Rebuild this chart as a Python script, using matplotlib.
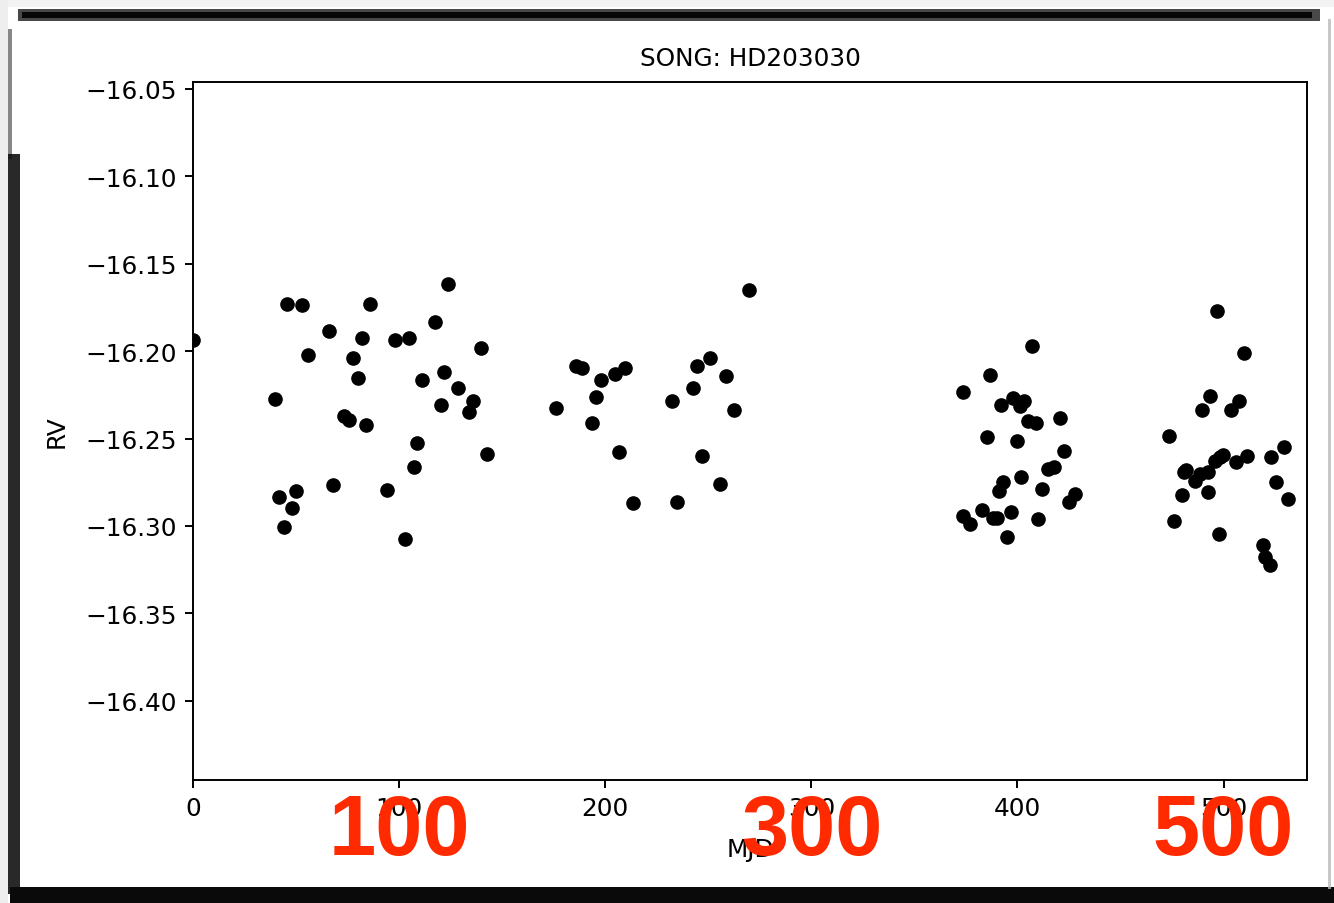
import numpy as np
import matplotlib
matplotlib.use("Agg")
import matplotlib.pyplot as plt
from matplotlib.patches import Rectangle

# --- data (days since first epoch, RV in km/s) ---
mjd = [
    0.0, 39.7, 45.8, 52.9, 66.1, 55.9, 41.8, 49.9, 47.9, 43.9,
    67.7, 85.8, 81.9, 77.7, 79.8, 73.3, 75.8, 83.8, 93.9, 98.0,
    104.9, 103.0, 108.6, 107.0, 110.9, 117.5, 123.9, 121.7, 120.1, 128.7,
    135.7, 133.7, 139.5, 142.4,
    269.7, 176.2, 185.9, 188.8, 197.8, 195.7, 193.8, 204.5, 209.8, 206.9,
    213.7, 232.5, 234.7, 242.7, 244.6, 250.8, 258.7, 262.7, 246.7, 255.5,
    407.0, 386.9, 373.8, 391.9, 397.6, 401.2, 403.1, 404.9, 408.8, 420.6,
    385.1, 399.8, 422.7, 414.9, 417.8, 401.6, 393.0, 391.0, 412.0, 428.0,
    425.0, 382.9, 396.8, 373.6, 377.0, 387.9, 390.1, 410.0, 394.9,
    496.7, 510.0, 493.4, 489.4, 507.7, 503.6, 473.7, 529.4, 511.6, 523.0,
    499.9, 498.3, 495.9, 505.9, 480.8, 482.0, 488.6, 492.6, 486.2, 525.2,
    479.8, 492.3, 531.2, 475.8, 497.7, 519.3, 520.3, 522.6,
]
rv = [
    -16.1936, -16.2273, -16.1728, -16.1736, -16.1886, -16.2023, -16.2832, -16.2800, -16.2895, -16.3006,
    -16.2764, -16.1728, -16.1926, -16.2037, -16.2155, -16.2369, -16.2394, -16.2424, -16.2792, -16.1937,
    -16.1926, -16.3074, -16.2523, -16.2661, -16.2163, -16.1835, -16.1617, -16.2121, -16.2308, -16.2211,
    -16.2283, -16.2350, -16.1983, -16.2586,
    -16.1648, -16.2325, -16.2083, -16.2094, -16.2163, -16.2262, -16.2412, -16.2130, -16.2096, -16.2575,
    -16.2870, -16.2283, -16.2861, -16.2211, -16.2086, -16.2037, -16.2140, -16.2335, -16.2600, -16.2758,
    -16.1969, -16.2134, -16.2235, -16.2310, -16.2269, -16.2312, -16.2285, -16.2398, -16.2412, -16.2384,
    -16.2489, -16.2515, -16.2573, -16.2674, -16.2664, -16.2720, -16.2748, -16.2798, -16.2788, -16.2819,
    -16.2864, -16.2908, -16.2920, -16.2941, -16.2990, -16.2956, -16.2956, -16.2960, -16.3065,
    -16.1768, -16.2010, -16.2258, -16.2335, -16.2287, -16.2335, -16.2487, -16.2548, -16.2598, -16.2603,
    -16.2592, -16.2607, -16.2630, -16.2634, -16.2689, -16.2681, -16.2704, -16.2689, -16.2744, -16.2748,
    -16.2823, -16.2804, -16.2847, -16.2971, -16.3046, -16.3109, -16.3177, -16.3223,
]
x_ticks = [0, 100, 200, 300, 400, 500]
y_ticks = [-16.05, -16.10, -16.15, -16.20, -16.25, -16.30, -16.35, -16.40]
stamp_labels = ["100", "300", "500"]

plt.rcParams['font.family'] = ['DejaVu Sans']
fig = plt.figure(figsize=(13.34, 9.04), dpi=100)
fig.patch.set_facecolor('white')

ax = fig.add_axes([0.1447, 0.1361, 0.8351, 0.7721])
ax.plot(mjd, rv, 'o', color='black', markersize=9.5, clip_on=True)
ax.set_xlim(0, 540.5)
ax.set_ylim(-16.4453, -16.046)
ax.set_xticks(x_ticks)
ax.set_yticks(y_ticks)
ax.set_yticklabels([f"\u2212{abs(v):.2f}" for v in y_ticks])
ax.tick_params(labelsize=17.8, length=5.5, width=1.4, pad=6)
for sp in ax.spines.values():
    sp.set_linewidth(1.4)
ax.set_title("SONG: HD203030", fontsize=17.8, pad=12)
ax.set_xlabel("MJD", fontsize=17.8, labelpad=12)
ax.set_ylabel("RV", fontsize=17.8, labelpad=12)

# big red stamps over the x tick labels
for lab in stamp_labels:
    xd = float(lab)
    xf = fig.transFigure.inverted().transform(ax.transData.transform((xd, -16.4453)))[0]
    fig.text(xf, 1 - 833 / 904, lab, ha='center', va='center', color='#ff2a00',
             fontsize=61, fontweight='bold', family=['Liberation Sans', 'DejaVu Sans'],
             zorder=10)

# rough scanned-looking frame round the picture
W, H = 1334, 904
def rect(x0, y0, w, h, c, a=1.0):
    fig.patches.append(Rectangle((x0 / W, 1 - (y0 + h) / H), w / W, h / H,
                                 transform=fig.transFigure, facecolor=c,
                                 edgecolor='none', alpha=a, zorder=0))
rect(0, 0, W, 8, '#f2f2f2')
rect(18, 10, 1302, 12, '#1a1a1a', 0.8)
rect(22, 13, 1290, 6, '#000000', 0.9)
rect(0, 0, 8, H, '#eeeeee')
rect(8, 30, 4, 130, '#555555', 0.7)
rect(8, 155, 12, 740, '#111111', 0.9)
rect(10, 888, 1324, 16, '#0a0a0a')
rect(1328, 20, 3, 870, '#bbbbbb', 0.8)

fig.savefig('out.png', dpi=100)
